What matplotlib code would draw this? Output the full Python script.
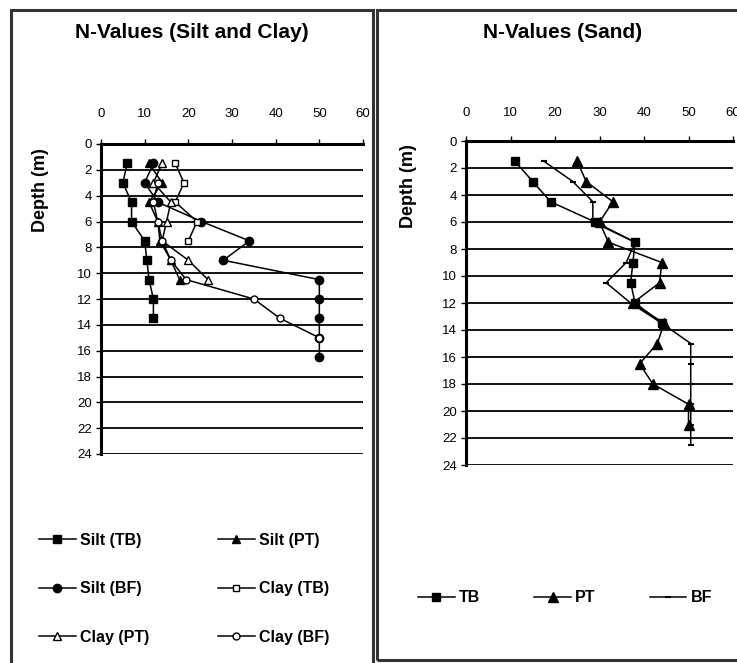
import matplotlib
matplotlib.use("Agg")
import matplotlib.pyplot as plt
from matplotlib.patches import Rectangle

plt.rcParams['font.family'] = ['Liberation Sans Narrow', 'Liberation Sans', 'DejaVu Sans']

# ---------------- data ----------------
# Left panel: silt and clay (depth in m, N-value)
silt_tb_depth = [1.5, 3, 4.5, 6, 7.5, 9, 10.5, 12, 13.5]
silt_tb_n     = [6, 5, 7, 7, 10, 10.5, 11, 12, 12]
silt_pt_depth = [1.5, 3, 4.5, 6, 7.5, 9, 10.5]
silt_pt_n     = [11, 14, 11, 13, 13.5, 16, 18]
silt_bf_depth = [1.5, 3, 4.5, 6, 7.5, 9, 10.5, 12, 13.5, 15, 16.5]
silt_bf_n     = [12, 10, 13, 23, 34, 28, 50, 50, 50, 50, 50]
clay_tb_depth = [1.5, 3, 4.5, 6, 7.5]
clay_tb_n     = [17, 19, 17, 22, 20]
clay_pt_depth = [1.5, 3, 4.5, 6, 7.5, 9, 10.5]
clay_pt_n     = [14, 12, 16, 15, 14, 20, 24.5]
clay_bf_depth = [3, 4.5, 6, 7.5, 9, 10.5, 12, 13.5, 15]
clay_bf_n     = [13, 12, 13, 14, 16, 19.5, 35, 41, 50]

# Right panel: sand
sand_tb_depth = [1.5, 3, 4.5, 6, 7.5, 9, 10.5, 12, 13.5]
sand_tb_n     = [11, 15, 19, 29, 38, 37.5, 37, 38, 44]
sand_pt_depth = [1.5, 3, 4.5, 6, 7.5, 9, 10.5, 12, 13.5, 15, 16.5, 18, 19.5, 21]
sand_pt_n     = [25, 27, 33, 30, 32, 44, 43.5, 37.5, 44.5, 43, 39, 42, 50, 50]
sand_bf_depth = [1.5, 3, 4.5, 6, 7.5, 9, 10.5, 12, 13.5, 15, 16.5, 18, 19.5, 21, 22.5]
sand_bf_n     = [17.5, 24, 28.5, 28.5, 38, 36, 31.5, 37, 44, 50.5, 50.5, 50.5, 50.5, 50.5, 50.5]

x_ticks = [0, 10, 20, 30, 40, 50, 60]
y_ticks = [0, 2, 4, 6, 8, 10, 12, 14, 16, 18, 20, 22, 24]

# ---------------- figure ----------------
W, H = 737, 663
fig = plt.figure(figsize=(W / 100, H / 100), dpi=100)


def fx(px):
    return px / W


def fy(py):
    return 1 - py / H


def make_axes(x0, x1, y0, y1, xpad):
    ax = fig.add_axes([fx(x0), fy(y1), fx(x1) - fx(x0), fy(y0) - fy(y1)])
    ax.set_xlim(0, 60)
    ax.set_ylim(24, 0)
    ax.set_xticks(x_ticks)
    ax.set_yticks(y_ticks)
    ax.xaxis.tick_top()
    ax.tick_params(axis='x', direction='out', length=3.5, width=1.0, pad=xpad,
                   labelsize=9.5, colors='black')
    ax.tick_params(axis='y', direction='out', length=3.5, width=1.0, pad=3,
                   labelsize=9.5)
    for s in ['right', 'bottom']:
        ax.spines[s].set_visible(False)
    for s in ['top', 'left']:
        ax.spines[s].set_linewidth(2.2)
    ax.yaxis.grid(True, color='black', linewidth=1.3)
    ax.set_axisbelow(True)
    ax.set_ylabel('Depth (m)', fontsize=13, fontweight='bold', labelpad=6)
    return ax


lw = 1.1
ax1 = make_axes(101, 363, 144, 454, 14)
ax1.plot(silt_tb_n, silt_tb_depth, color='black', lw=lw, marker='s', ms=5.5,
         mfc='black', mec='black', label='Silt (TB)')
ax1.plot(silt_pt_n, silt_pt_depth, color='black', lw=lw, marker='^', ms=6,
         mfc='black', mec='black', label='Silt (PT)')
ax1.plot(silt_bf_n, silt_bf_depth, color='black', lw=lw, marker='o', ms=6,
         mfc='black', mec='black', label='Silt (BF)')
ax1.plot(clay_tb_n, clay_tb_depth, color='black', lw=lw, marker='s', ms=5,
         mfc='white', mec='black', label='Clay (TB)')
ax1.plot(clay_pt_n, clay_pt_depth, color='black', lw=lw, marker='^', ms=6,
         mfc='white', mec='black', label='Clay (PT)')
ax1.plot(clay_bf_n, clay_bf_depth, color='black', lw=lw, marker='o', ms=5,
         mfc='white', mec='black', label='Clay (BF)')
ax1.yaxis.set_label_coords(-0.2, 0.85)

ax2 = make_axes(466, 733, 141, 465, 12.5)
ax2.plot(sand_tb_n, sand_tb_depth, color='black', lw=lw, marker='s', ms=6,
         mfc='black', mec='black', label='TB')
ax2.plot(sand_pt_n, sand_pt_depth, color='black', lw=lw, marker='^', ms=6.5,
         mfc='black', mec='black', label='PT')
ax2.plot(sand_bf_n, sand_bf_depth, color='black', lw=lw, marker='_', ms=5,
         mew=1.5, mfc='black', mec='black', label='BF')
ax2.yaxis.set_label_coords(-0.185, 0.86)

# titles
fig.text(fx(192), fy(33), 'N-Values (Silt and Clay)', fontsize=15,
         fontweight='bold', ha='center', va='center')
fig.text(fx(563), fy(33), 'N-Values (Sand)', fontsize=15,
         fontweight='bold', ha='center', va='center')

# panel borders
fig.add_artist(Rectangle((fx(11), fy(675)), fx(373) - fx(11), fy(10) - fy(675),
                         transform=fig.transFigure, fill=False,
                         edgecolor='#333333', linewidth=2.2, clip_on=False))
fig.add_artist(Rectangle((fx(377), fy(660)), fx(745) - fx(377), fy(10) - fy(660),
                         transform=fig.transFigure, fill=False,
                         edgecolor='#333333', linewidth=2.2, clip_on=False))

# legends
h1, l1 = ax1.get_legend_handles_labels()
order = [0, 2, 4, 1, 3, 5]
fig.legend([h1[i] for i in order], [l1[i] for i in order], ncol=2,
           loc='center', bbox_to_anchor=(fx(184), fy(589)), frameon=False,
           prop={'weight': 'bold', 'size': 11.5}, handlelength=2.3,
           handletextpad=0.25, columnspacing=4.3, labelspacing=2.1)
h2, l2 = ax2.get_legend_handles_labels()
fig.legend(h2, l2, ncol=3, loc='center', bbox_to_anchor=(fx(565), fy(598)),
           frameon=False, prop={'weight': 'bold', 'size': 11.5},
           handlelength=2.3, handletextpad=0.25, columnspacing=3.4)

fig.savefig('out.png', dpi=100)
